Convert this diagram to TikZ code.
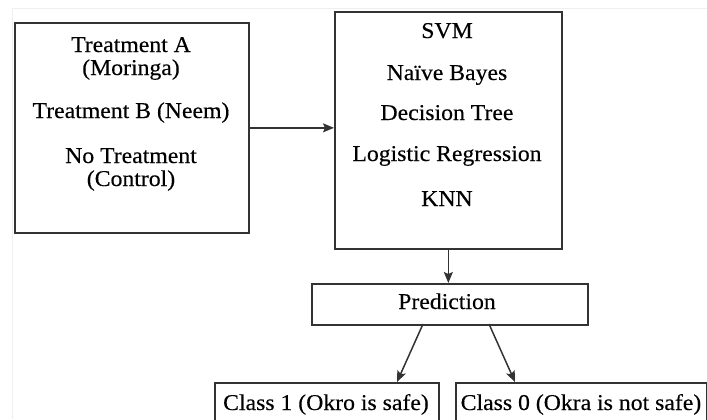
\documentclass[tikz,border=0pt]{standalone}
\usepackage{fontspec}
\setmainfont[FakeStretch=1.05,FakeBold=0.3]{Liberation Serif}
\usetikzlibrary{arrows.meta,calc}
\definecolor{edge}{HTML}{333333}
\definecolor{faint}{HTML}{EFEFEF}
\tikzset{
  box/.style={draw=edge, line width=1.7bp, inner sep=0pt, anchor=north west},
  txt/.style={anchor=base, inner sep=0pt, text=black, font=\fontsize{22.6bp}{26bp}\selectfont},
  conn/.style={draw=edge, line width=1.5bp, -{Stealth[length=11bp,width=9bp,inset=2bp]}}
}
\begin{document}
\begin{tikzpicture}[x=1bp,y=-1bp]
\useasboundingbox (0,0) rectangle (707,419);
\clip (0,0) rectangle (707,419);
\draw[faint, line width=0.8bp] (12.5,419) -- (12.5,8) -- (707,8);
% boxes
\node[box, minimum width=234bp, minimum height=210bp] (L) at (14,22) {};
\node[box, minimum width=227bp, minimum height=237bp] (M) at (334,11) {};
\node[box, minimum width=276bp, minimum height=41bp] (P) at (311,283) {};
\node[box, minimum width=224bp, minimum height=50bp] (C1) at (214,382) {};
\node[box, minimum width=251bp, minimum height=50bp] (C0) at (455,382) {};
% left texts
\node[txt] (l1) at (131,52) {Treatment A};
\node[txt] (l2) at (131,75) {(Moringa)};
\node[txt] (l3) at (131,118) {Treatment B (Neem)};
\node[txt] (l4) at (131,163) {No Treatment};
\node[txt] (l5) at (131,186) {(Control)};
% middle texts
\node[txt] (m1) at (447,38) {SVM};
\node[txt] (m2) at (447,80) {Naïve Bayes};
\node[txt] (m3) at (447,120) {Decision Tree};
\node[txt] (m4) at (447,161) {Logistic Regression};
\node[txt] (m5) at (447,206) {KNN};
% other texts
\node[txt] (pt) at (447,309) {Prediction};
\node[txt] (c1t) at (326,410) {Class 1 (Okro is safe)};
\node[txt] (c0t) at (581,410) {Class 0 (Okra is not safe)};
% connectors
\coordinate (s1) at (423,324);
\coordinate (e1) at (397,382);
\coordinate (s2) at (489,324);
\coordinate (e2) at (515,382);
\draw[conn] (L.east) -- (L.east -| M.west);
\draw[conn] (M.south) -- (M.south |- P.north);
\draw[conn] (s1) -- (e1);
\draw[conn] (s2) -- (e2);
\end{tikzpicture}
\end{document}
